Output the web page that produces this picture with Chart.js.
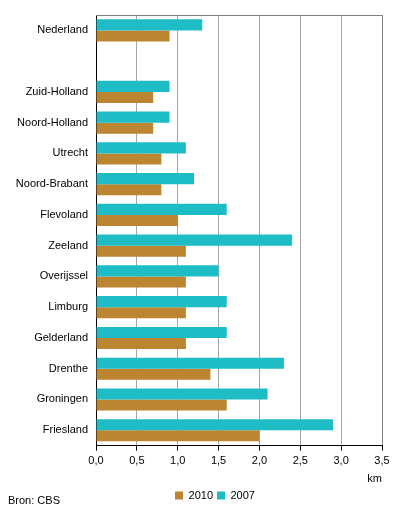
<!DOCTYPE html>
<html>
<head>
<meta charset="utf-8">
<script src="https://cdn.jsdelivr.net/npm/chart.js@4/dist/chart.umd.min.js"></script>
<style>
html,body{margin:0;padding:0;background:#fff;}
#wrap{width:396px;height:514px;position:relative;}
</style>
</head>
<body>
<div id="wrap"><canvas id="c" width="396" height="514"></canvas></div>
<script>
const categories = ['Nederland', '', 'Zuid-Holland', 'Noord-Holland', 'Utrecht', 'Noord-Brabant', 'Flevoland', 'Zeeland', 'Overijssel', 'Limburg', 'Gelderland', 'Drenthe', 'Groningen', 'Friesland'];
const values2007 = [1.3, null, 0.9, 0.9, 1.1, 1.2, 1.6, 2.4, 1.5, 1.6, 1.6, 2.3, 2.1, 2.9];
const values2010 = [0.9, null, 0.7, 0.7, 0.8, 0.8, 1.0, 1.1, 1.1, 1.1, 1.1, 1.4, 1.6, 2.0];
const xTicks = [0, 0.5, 1, 1.5, 2, 2.5, 3, 3.5];
const unitLabel = 'km';
const sourceText = 'Bron: CBS';

const FONT = 'Liberation Sans, Arial, sans-serif';
Chart.defaults.font.family = FONT;
Chart.defaults.font.size = 11;
Chart.defaults.color = '#000';

const extras = {
  id: 'extras',
  afterLayout(chart) {
    const lg = chart.legend;
    if (lg) {
      const shift = 215 - (lg.left + lg.right) / 2;
      lg.left += shift; lg.right += shift;
    }
  },
  beforeDatasetsDraw(chart) {
    const {ctx, chartArea: a} = chart;
    ctx.save();
    ctx.strokeStyle = '#808080';
    ctx.lineWidth = 1;
    ctx.beginPath();
    ctx.moveTo(a.left, a.top + 0.5);
    ctx.lineTo(a.right, a.top + 0.5);
    ctx.stroke();
    ctx.restore();
  },
  afterDraw(chart) {
    const ctx = chart.ctx;
    ctx.save();
    ctx.font = '11px ' + FONT;
    ctx.fillStyle = '#000';
    ctx.textBaseline = 'middle';
    ctx.textAlign = 'left';
    ctx.fillText(sourceText, 8, 501);
    ctx.restore();
  }
};

new Chart(document.getElementById('c'), {
  type: 'bar',
  data: {
    labels: categories,
    datasets: [
      { label: '2007', data: values2007, backgroundColor: '#1ebdc6', borderWidth: 0 },
      { label: '2010', data: values2010, backgroundColor: '#bb8532', borderWidth: 0 }
    ]
  },
  options: {
    indexAxis: 'y',
    responsive: false,
    animation: false,
    devicePixelRatio: 1,
    categoryPercentage: 0.72,
    barPercentage: 1.0,
    layout: { padding: { left: 0, right: 14, top: 15, bottom: 3 } },
    scales: {
      x: {
        min: 0, max: 3.5,
        afterBuildTicks(scale) { scale.ticks = xTicks.map(v => ({ value: v })); },
        ticks: {
          padding: 4,
          color: '#000',
          callback: (v) => Number(v).toFixed(1).replace('.', ',')
        },
        grid: { color: (c) => c.index === xTicks.length - 1 ? '#808080' : '#a6a6a6', tickColor: '#000', tickLength: 5, lineWidth: 1 },
        border: { color: '#000', width: 1 },
        title: { display: true, text: unitLabel, align: 'end', color: '#000', padding: { top: 1, bottom: 0 }, font: { size: 11 } }
      },
      y: {
        afterFit(scale) { scale.width = 96; },
        ticks: { padding: 8, color: '#000', autoSkip: false },
        grid: { display: false, drawTicks: false },
        border: { color: '#000', width: 1 }
      }
    },
    plugins: {
      legend: {
        position: 'bottom',
        reverse: true,
        labels: { boxWidth: 8, boxHeight: 8, padding: 4, color: '#000', font: { size: 11 } }
      },
      tooltip: { enabled: false }
    }
  },
  plugins: [extras]
});
</script>
</body>
</html>
